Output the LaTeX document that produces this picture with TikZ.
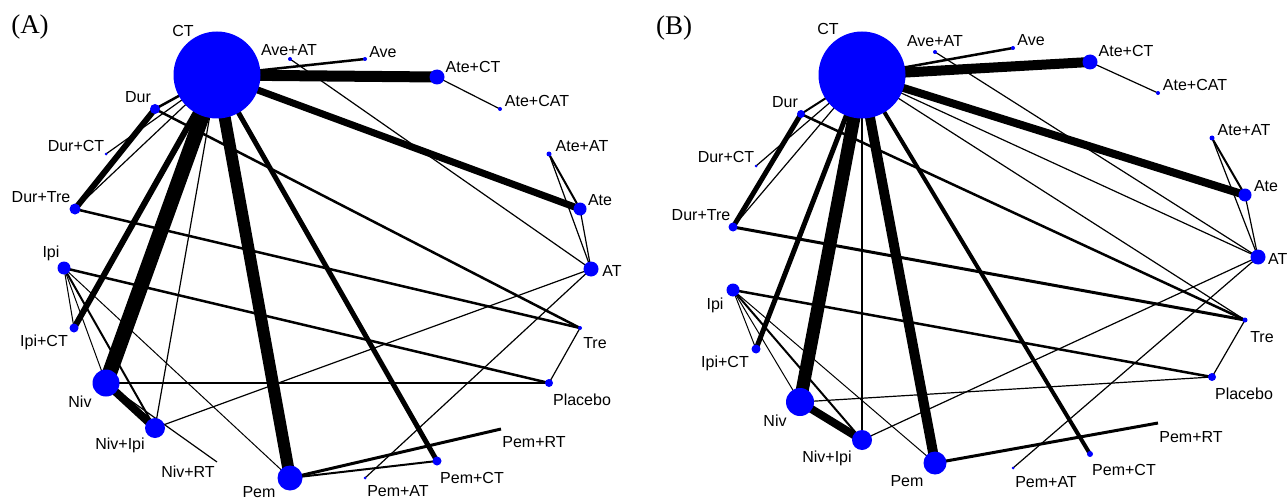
\documentclass[tikz,border=0pt]{standalone}
\usepackage{fontspec}
\setmainfont{Liberation Sans}
\newfontfamily\panelfont{Liberation Serif}
\usetikzlibrary{backgrounds}
\definecolor{netblue}{RGB}{0,0,255}
\tikzset{
  trt/.style={circle, fill=netblue, draw=none, inner sep=0pt, minimum size=#1},
  lbl/.style={font=\fontsize{16}{18}\selectfont, inner sep=0pt, text=black},
  panel/.style={font=\panelfont\fontsize{27}{30}\selectfont, inner sep=0pt},
  edge/.style={line width=#1, draw=black},
}
\begin{document}
\begin{tikzpicture}[x=1pt,y=-1pt]
\useasboundingbox (0,0) rectangle (1287,500);

% ---------------- Panel A ----------------
\node[panel] (pA) at (30,27) {(A)};
\node[trt=87pt] (A-CT) at (217,75) {};
\node[trt=4pt] (A-AveAT) at (290,59) {};
\node[trt=4pt] (A-Ave) at (365,59) {};
\node[trt=15pt] (A-AteCT) at (437,77) {};
\node[trt=4pt] (A-AteCAT) at (500,109) {};
\node[trt=5pt] (A-AteAT) at (549,154) {};
\node[trt=13pt] (A-Ate) at (580,209) {};
\node[trt=15pt] (A-AT) at (591,269) {};
\node[trt=4pt] (A-Tre) at (580,328) {};
\node[trt=8pt] (A-Placebo) at (549,383) {};
\coordinate (A-PemRT) at (501,429);
\node[trt=9pt] (A-PemCT) at (437,461) {};
\node[trt=3pt] (A-PemAT) at (365,478) {};
\node[trt=25pt] (A-Pem) at (290,478) {};
\coordinate (A-NivRT) at (217,462);
\node[trt=20pt] (A-NivIpi) at (155,428) {};
\node[trt=27pt] (A-Niv) at (106,383) {};
\node[trt=9pt] (A-IpiCT) at (74,328) {};
\node[trt=13pt] (A-Ipi) at (64,268) {};
\node[trt=11pt] (A-DurTre) at (75,209) {};
\node[trt=3pt] (A-DurCT) at (106,154) {};
\node[trt=10pt] (A-Dur) at (155,109) {};

\node[lbl] (lA-CT) at (183,31) {CT};
\node[lbl] (lA-AveAT) at (289,50) {Ave+AT};
\node[lbl] (lA-Ave) at (383,52) {Ave};
\node[lbl] (lA-AteCT) at (473,67) {Ate+CT};
\node[lbl] (lA-AteCAT) at (537,101) {Ate+CAT};
\node[lbl] (lA-AteAT) at (582,146) {Ate+AT};
\node[lbl] (lA-Ate) at (600,200) {Ate};
\node[lbl] (lA-AT) at (612,271) {AT};
\node[lbl] (lA-Tre) at (595,343) {Tre};
\node[lbl] (lA-Placebo) at (582,400) {Placebo};
\node[lbl] (lA-PemRT) at (534,442) {Pem+RT};
\node[lbl] (lA-PemCT) at (472,478) {Pem+CT};
\node[lbl] (lA-PemAT) at (398,491) {Pem+AT};
\node[lbl] (lA-Pem) at (259,492) {Pem};
\node[lbl] (lA-NivRT) at (188,472) {Niv+RT};
\node[lbl] (lA-NivIpi) at (120,445) {Niv+Ipi};
\node[lbl] (lA-Niv) at (80,402) {Niv};
\node[lbl] (lA-IpiCT) at (44,342) {Ipi+CT};
\node[lbl] (lA-Ipi) at (51,253) {Ipi};
\node[lbl] (lA-DurTre) at (41,197) {Dur+Tre};
\node[lbl] (lA-DurCT) at (76,146) {Dur+CT};
\node[lbl] (lA-Dur) at (138,97) {Dur};

% ---------------- Panel B ----------------
\node[panel] (pB) at (674,28) {(B)};
\node[trt=87pt] (B-CT) at (862,75) {};
\node[trt=4pt] (B-AveAT) at (935,52) {};
\node[trt=4pt] (B-Ave) at (1013,48) {};
\node[trt=15pt] (B-AteCT) at (1090,62) {};
\node[trt=4pt] (B-AteCAT) at (1158,93) {};
\node[trt=5pt] (B-AteAT) at (1212,138) {};
\node[trt=13pt] (B-Ate) at (1245,195) {};
\node[trt=15pt] (B-AT) at (1258,257) {};
\node[trt=5pt] (B-Tre) at (1245,320) {};
\node[trt=8pt] (B-Placebo) at (1212,377) {};
\coordinate (B-PemRT) at (1158,423);
\node[trt=6pt] (B-PemCT) at (1090,454) {};
\node[trt=3pt] (B-PemAT) at (1013,468) {};
\node[trt=23pt] (B-Pem) at (935,463) {};
\node[trt=20pt] (B-NivIpi) at (862,440) {};
\node[trt=28pt] (B-Niv) at (800,402) {};
\node[trt=9pt] (B-IpiCT) at (756,349) {};
\node[trt=13pt] (B-Ipi) at (733,290) {};
\node[trt=9pt] (B-DurTre) at (733,227) {};
\node[trt=3pt] (B-DurCT) at (756,166) {};
\node[trt=8pt] (B-Dur) at (801,114) {};

\node[lbl] (lB-CT) at (828,29) {CT};
\node[lbl] (lB-AveAT) at (935,41) {Ave+AT};
\node[lbl] (lB-Ave) at (1031,40) {Ave};
\node[lbl] (lB-AteCT) at (1126,51) {Ate+CT};
\node[lbl] (lB-AteCAT) at (1195,85) {Ate+CAT};
\node[lbl] (lB-AteAT) at (1244,130) {Ate+AT};
\node[lbl] (lB-Ate) at (1266,186) {Ate};
\node[lbl, anchor=west] (lB-AT) at (1268,259) {AT};
\node[lbl] (lB-Tre) at (1262,337) {Tre};
\node[lbl] (lB-Placebo) at (1244,394) {Placebo};
\node[lbl] (lB-PemRT) at (1191,437) {Pem+RT};
\node[lbl] (lB-PemCT) at (1124,470) {Pem+CT};
\node[lbl] (lB-PemAT) at (1046,482) {Pem+AT};
\node[lbl] (lB-Pem) at (907,481) {Pem};
\node[lbl] (lB-NivIpi) at (827,458) {Niv+Ipi};
\node[lbl] (lB-Niv) at (775,421) {Niv};
\node[lbl] (lB-IpiCT) at (725,363) {Ipi+CT};
\node[lbl] (lB-Ipi) at (715,305) {Ipi};
\node[lbl] (lB-DurTre) at (701,215) {Dur+Tre};
\node[lbl] (lB-DurCT) at (726,157) {Dur+CT};
\node[lbl] (lB-Dur) at (785,102) {Dur};

% ---------------- Connectors (behind the treatment circles) ----------------
\begin{pgfonlayer}{background}
  % panel A
  \draw[edge=2.5pt] (A-CT.center) -- (A-Ave.center);
  \draw[edge=11pt] (A-CT.center) -- (A-AteCT.center);
  \draw[edge=7pt] (A-CT.center) -- (A-Ate.center);
  \draw[edge=5pt] (A-CT.center) -- (A-PemCT.center);
  \draw[edge=12pt] (A-CT.center) -- (A-Pem.center);
  \draw[edge=1.2pt] (A-CT.center) -- (A-NivIpi.center);
  \draw[edge=15pt] (A-CT.center) -- (A-Niv.center);
  \draw[edge=6pt] (A-CT.center) -- (A-IpiCT.center);
  \draw[edge=1.2pt] (A-CT.center) -- (A-DurTre.center);
  \draw[edge=1.2pt] (A-CT.center) -- (A-DurCT.center);
  \draw[edge=2.5pt] (A-CT.center) -- (A-Dur.center);
  \draw[edge=1.2pt] (A-AveAT.center) -- (A-AT.center);
  \draw[edge=1.2pt] (A-AteCT.center) -- (A-AteCAT.center);
  \draw[edge=2pt] (A-AteAT.center) -- (A-Ate.center);
  \draw[edge=1.2pt] (A-AteAT.center) -- (A-AT.center);
  \draw[edge=1.2pt] (A-Ate.center) -- (A-AT.center);
  \draw[edge=6pt] (A-Dur.center) -- (A-DurTre.center);
  \draw[edge=2.5pt] (A-Dur.center) -- (A-Tre.center);
  \draw[edge=2.5pt] (A-DurTre.center) -- (A-Tre.center);
  \draw[edge=1.2pt] (A-Tre.center) -- (A-Placebo.center);
  \draw[edge=2.5pt] (A-Ipi.center) -- (A-Placebo.center);
  \draw[edge=1pt] (A-Ipi.center) -- (A-IpiCT.center);
  \draw[edge=1pt] (A-Ipi.center) -- (A-Niv.center);
  \draw[edge=2pt] (A-Ipi.center) -- (A-NivIpi.center);
  \draw[edge=1pt] (A-Ipi.center) -- (A-Pem.center);
  \draw[edge=8pt] (A-Niv.center) -- (A-NivIpi.center);
  \draw[edge=1.2pt] (A-Niv.center) -- (A-Placebo.center);
  \draw[edge=1.2pt] (A-Niv.center) -- (A-NivRT);
  \draw[edge=1.2pt] (A-NivIpi.center) -- (A-AT.center);
  \draw[edge=1.2pt] (A-PemAT.center) -- (A-AT.center);
  \draw[edge=3pt] (A-Pem.center) -- (A-PemRT);
  \draw[edge=2pt] (A-Pem.center) -- (A-PemCT.center);
  % panel B
  \draw[edge=2.5pt] (B-CT.center) -- (B-Ave.center);
  \draw[edge=10pt] (B-CT.center) -- (B-AteCT.center);
  \draw[edge=8pt] (B-CT.center) -- (B-Ate.center);
  \draw[edge=1.2pt] (B-CT.center) -- (B-AT.center);
  \draw[edge=1.2pt] (B-CT.center) -- (B-Tre.center);
  \draw[edge=4pt] (B-CT.center) -- (B-PemCT.center);
  \draw[edge=10pt] (B-CT.center) -- (B-Pem.center);
  \draw[edge=1.2pt] (B-CT.center) -- (B-NivIpi.center);
  \draw[edge=13pt] (B-CT.center) -- (B-Niv.center);
  \draw[edge=5pt] (B-CT.center) -- (B-IpiCT.center);
  \draw[edge=1.2pt] (B-CT.center) -- (B-DurTre.center);
  \draw[edge=1.2pt] (B-CT.center) -- (B-DurCT.center);
  \draw[edge=2pt] (B-CT.center) -- (B-Dur.center);
  \draw[edge=1.2pt] (B-AveAT.center) -- (B-AT.center);
  \draw[edge=1.2pt] (B-AteCT.center) -- (B-AteCAT.center);
  \draw[edge=2pt] (B-AteAT.center) -- (B-Ate.center);
  \draw[edge=1.2pt] (B-AteAT.center) -- (B-AT.center);
  \draw[edge=1.2pt] (B-Ate.center) -- (B-AT.center);
  \draw[edge=5pt] (B-Dur.center) -- (B-DurTre.center);
  \draw[edge=2.5pt] (B-Dur.center) -- (B-Tre.center);
  \draw[edge=3pt] (B-DurTre.center) -- (B-Tre.center);
  \draw[edge=1.2pt] (B-Tre.center) -- (B-Placebo.center);
  \draw[edge=2.5pt] (B-Ipi.center) -- (B-Placebo.center);
  \draw[edge=1pt] (B-Ipi.center) -- (B-IpiCT.center);
  \draw[edge=1pt] (B-Ipi.center) -- (B-Niv.center);
  \draw[edge=2pt] (B-Ipi.center) -- (B-NivIpi.center);
  \draw[edge=1pt] (B-Ipi.center) -- (B-Pem.center);
  \draw[edge=8pt] (B-Niv.center) -- (B-NivIpi.center);
  \draw[edge=1.2pt] (B-Niv.center) -- (B-Placebo.center);
  \draw[edge=1.2pt] (B-NivIpi.center) -- (B-AT.center);
  \draw[edge=1.2pt] (B-PemAT.center) -- (B-AT.center);
  \draw[edge=3pt] (B-Pem.center) -- (B-PemRT);
\end{pgfonlayer}
\end{tikzpicture}
\end{document}
